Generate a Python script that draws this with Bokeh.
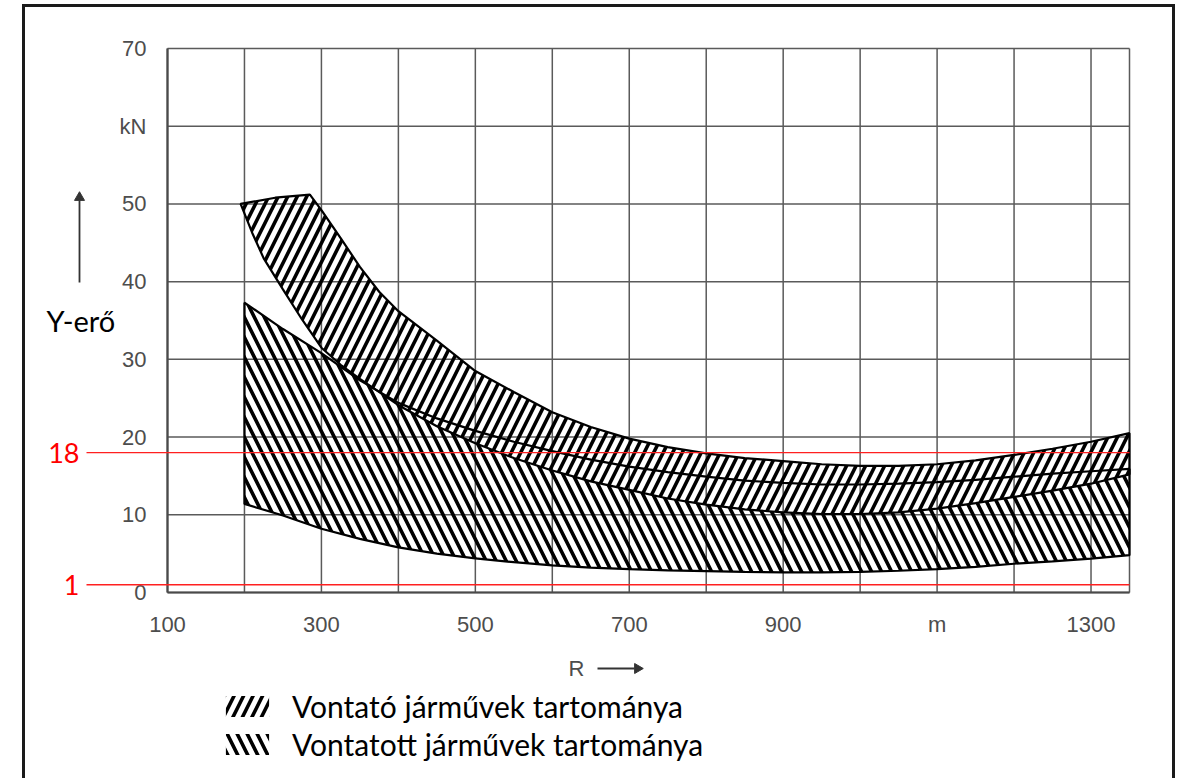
import numpy as np
from bokeh.plotting import figure
from bokeh.models import Legend, LegendItem, Range1d
from bokeh.core.properties import value
from bokeh.embed import file_html
from bokeh.resources import INLINE

# ---------------- data ----------------
# Vontató járművek tartománya (traction vehicles) – upper and lower boundary
a_top_x = [195, 240, 285, 300, 325, 350, 375, 400, 450, 500, 550, 600, 650, 700, 750,
           800, 850, 900, 950, 1000, 1050, 1100, 1150, 1200, 1250, 1300, 1350]
a_top_y = [50.0, 50.8, 51.2, 49.2, 45.6, 41.9, 38.7, 36.2, 32.4, 28.5, 25.8, 23.2,
           21.3, 19.8, 18.7, 17.9, 17.3, 16.9, 16.5, 16.3, 16.3, 16.5, 17.0, 17.7,
           18.5, 19.4, 20.5]
a_bot_x = [195, 210, 225, 250, 275, 300, 325, 350, 400, 450, 500, 550, 600, 650, 700,
           750, 800, 850, 900, 950, 1000, 1050, 1100, 1150, 1200, 1250, 1300, 1350]
a_bot_y = [50.0, 46.3, 43.0, 39.0, 35.1, 31.5, 29.3, 27.5, 24.1, 21.4, 19.2, 17.3,
           15.7, 14.3, 13.2, 12.1, 11.3, 10.7, 10.3, 10.1, 10.1, 10.3, 10.8, 11.5,
           12.3, 13.1, 14.0, 15.2]
# Vontatott járművek tartománya (towed vehicles) – upper and lower boundary
b_x = [200, 250, 300, 350, 400, 450, 500, 550, 600, 650, 700, 750, 800, 850,
       900, 950, 1000, 1050, 1100, 1150, 1200, 1250, 1300, 1350]
b_top = [37.3, 33.9, 30.8, 27.3, 24.4, 22.4, 20.8, 19.4, 18.2, 17.1, 16.2, 15.5,
         14.9, 14.4, 14.1, 13.9, 13.9, 14.0, 14.2, 14.5, 14.9, 15.3, 15.6, 15.9]
b_bot = [11.4, 9.9, 8.2, 6.9, 5.8, 5.0, 4.4, 3.9, 3.5, 3.2, 3.0, 2.85, 2.75, 2.65,
         2.6, 2.6, 2.65, 2.8, 3.0, 3.3, 3.7, 4.0, 4.35, 4.8]

x_ticks = [100, 200, 300, 400, 500, 600, 700, 800, 900, 1000, 1100, 1200, 1300]
x_tick_labels = ["100", "", "300", "", "500", "", "700", "", "900", "", "m", "", "1300"]
y_ticks = [0, 10, 20, 30, 40, 50, 60, 70]
y_tick_labels = ["0", "10", "20", "30", "40", "50", "kN", "70"]
x_limits = [100, 1350]
red_levels = [18, 1]
red_labels = ["18", "1"]
legend_labels = ["Vontató járművek tartománya", "Vontatott járművek tartománya"]

# ---------------- layout: page pixel <-> data mapping ----------------
W, H = 1181, 778
FL, FR, FT, FB = 167, 1129, 48, 592      # chart grid box in page pixels
X0, X1, Y0, Y1 = 100, 1350, 0, 70


def dx(rx):
    return X0 + (rx - FL) * (X1 - X0) / (FR - FL)


def dy(ry):
    return Y0 + (FB - ry) * (Y1 - Y0) / (FB - FT)


p = figure(width=W, height=H, x_range=Range1d(dx(0), dx(W)), y_range=Range1d(dy(H), dy(0)),
           output_backend="svg", toolbar_location=None,
           x_axis_location=None, y_axis_location=None, min_border=0)
p.grid.visible = False
p.outline_line_color = None
p.background_fill_color = "white"
p.border_fill_color = "white"

GRID_COLOR = "#5a5a5a"
TICK_FONT = value("Liberation Sans")
TICK_COLOR = "#4d4d4d"

# grid (drawn from the tick arrays)
xg = x_ticks + [x_limits[1]]
p.segment(x0=xg, y0=[y_ticks[0]] * len(xg), x1=xg, y1=[y_ticks[-1]] * len(xg),
          line_color=GRID_COLOR, line_width=1.5)
p.segment(x0=[x_limits[0]] * len(y_ticks), y0=y_ticks, x1=[x_limits[1]] * len(y_ticks),
          y1=y_ticks, line_color=GRID_COLOR, line_width=1.5)
# slightly heavier box edges
p.segment(x0=[x_limits[0], x_limits[0]], y0=[y_ticks[0], y_ticks[0]],
          x1=[x_limits[1], x_limits[0]], y1=[y_ticks[0], y_ticks[-1]],
          line_color="#4a4a4a", line_width=2.2)

# tick labels
p.text(x=x_ticks, y=[dy(624)] * len(x_ticks), text=x_tick_labels,
       text_font=TICK_FONT, text_font_size="22px", text_color=TICK_COLOR,
       text_align="center", text_baseline="middle")
p.text(x=[dx(146)] * len(y_ticks), y=y_ticks, text=y_tick_labels,
       text_font=TICK_FONT, text_font_size="22px", text_color=TICK_COLOR,
       text_align="right", text_baseline="middle")

# ---------------- bands ----------------
b_upper_clip = np.minimum(np.array(b_top), np.interp(b_x, a_bot_x, a_bot_y))
b_hatch = p.varea(x=b_x, y1=b_bot, y2=b_upper_clip, fill_alpha=0,
                  hatch_pattern="\\", hatch_color="black", hatch_weight=3.6,
                  hatch_scale=20)
a_xs = a_top_x + a_bot_x[::-1]
a_ys = a_top_y + a_bot_y[::-1]
a_hatch = p.patch(x=a_xs, y=a_ys, fill_alpha=0, line_color=None,
                  hatch_pattern="/", hatch_color="black", hatch_weight=3.6,
                  hatch_scale=19)
p.patch(x=a_xs, y=a_ys, fill_color=None, line_color="black", line_width=2.2)
p.patch(x=b_x + b_x[::-1], y=b_top + b_bot[::-1], fill_color=None,
        line_color="black", line_width=2.2)

# ---------------- red reference lines ----------------
p.segment(x0=[dx(86)] * len(red_levels), y0=red_levels, x1=[x_limits[1]] * len(red_levels),
          y1=red_levels, line_color="#ff2020", line_width=1.4)
p.text(x=[dx(79)] * len(red_levels), y=red_levels, text=red_labels, text_color="red",
       text_font=value("Lato"), text_font_size="27px",
       text_align="right", text_baseline="middle")

# ---------------- axis titles & arrows ----------------
p.text(x=[dx(46)], y=[dy(320)], text=["Y-erő"], text_color="black",
       text_font=value("Lato"), text_font_size="29px",
       text_align="left", text_baseline="middle")
p.segment(x0=[dx(79)], y0=[dy(282)], x1=[dx(79)], y1=[dy(200)],
          line_color="#333333", line_width=1.8)
p.triangle(x=[dx(79)], y=[dy(197)], size=10, angle=0, fill_color="#333333",
           line_color="#333333")
p.text(x=[dx(568)], y=[dy(668)], text=["R"], text_color=TICK_COLOR,
       text_font=TICK_FONT, text_font_size="22px",
       text_align="left", text_baseline="middle")
p.segment(x0=[dx(597)], y0=[dy(668)], x1=[dx(634)], y1=[dy(668)],
          line_color="#333333", line_width=1.8)
p.triangle(x=[dx(637)], y=[dy(668)], size=10, angle=-np.pi / 2,
           fill_color="#333333", line_color="#333333")

# ---------------- outer frame ----------------
p.segment(x0=[dx(23), dx(21.5), dx(1173)], y0=[dy(3.5), dy(5), dy(3.5)],
          x1=[dx(23), dx(1174.5), dx(1173)], y1=[dy(790), dy(5), dy(790)],
          line_color="#1a1a1a", line_width=3)

# ---------------- legend ----------------
legend = Legend(items=[LegendItem(label=legend_labels[0], renderers=[a_hatch]),
                       LegendItem(label=legend_labels[1], renderers=[b_hatch])],
                location=(220, H - 762),
                orientation="vertical", padding=0, margin=0, spacing=2,
                glyph_width=54, glyph_height=26, label_standoff=18,
                label_text_font="Lato", label_text_font_size="30px",
                label_text_color="black", label_height=30,
                border_line_color=None, background_fill_alpha=0)
p.add_layout(legend, "center")

open("out.html", "w").write(file_html(p, INLINE, "Y-erő"))
